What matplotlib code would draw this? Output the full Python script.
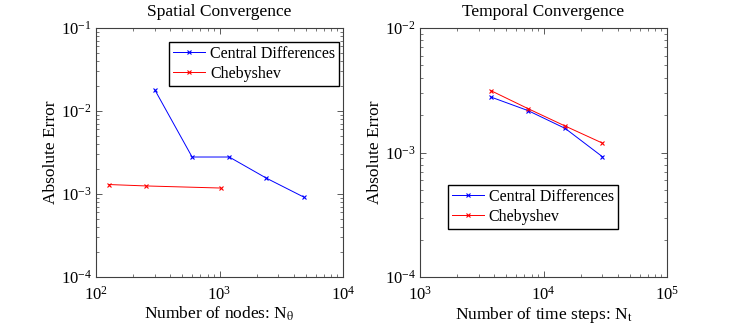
import numpy as np
import matplotlib
matplotlib.use("Agg")
import matplotlib.pyplot as plt

plt.rcParams['font.family'] = ['Liberation Serif', 'DejaVu Serif']
plt.rcParams['mathtext.fontset'] = 'stix'

# spatial convergence
nodes_cd = [300, 600, 1200, 2400, 4800]
err_cd_space = [0.0179, 0.00279, 0.00279, 0.00155, 0.00092]
nodes_cheb = [128, 256, 1024]
err_cheb_space = [0.00130, 0.00125, 0.00118]

# temporal convergence
steps = [3750, 7500, 15000, 30000]
err_cd_time = [0.00279, 0.00217, 0.00156, 0.000925]
err_cheb_time = [0.00314, 0.00225, 0.00163, 0.00119]

fig = plt.figure(figsize=(7.36, 3.27), dpi=100)
ax1 = fig.add_axes([96/736, 1-277/327, 247/736, 249/327])
ax2 = fig.add_axes([420/736, 1-277/327, 247/736, 249/327])

lw = 0.7
leg_kw = dict(fontsize=11.5, fancybox=False, edgecolor='black', framealpha=1,
              handlelength=2.0, borderpad=0.25, labelspacing=0.25,
              handletextpad=0.3, borderaxespad=0)

ax1.loglog(nodes_cd, err_cd_space, 'b-x', lw=lw, ms=3, mew=0.8, label='Central Differences')
ax1.loglog(nodes_cheb, err_cheb_space, 'r-x', lw=lw, ms=3, mew=0.8, label='Chebyshev')
ax1.set_xlim(1e2, 1e4)
ax1.set_ylim(1e-4, 1e-1)
ax1.set_title('Spatial Convergence', fontsize=12.5, pad=9)
ax1.set_xlabel(r'Number of nodes: N$_{\mathrm{\theta}}$', fontsize=12.5, labelpad=1)
ax1.set_ylabel('Absolute Error', fontsize=12.5, labelpad=1)
ax1.legend(loc='upper right', bbox_to_anchor=(0.985, 0.945), **leg_kw)

ax2.loglog(steps, err_cd_time, 'b-x', lw=lw, ms=3, mew=0.8, label='Central Differences')
ax2.loglog(steps, err_cheb_time, 'r-x', lw=lw, ms=3, mew=0.8, label='Chebyshev')
ax2.set_xlim(1e3, 1e5)
ax2.set_ylim(1e-4, 1e-2)
ax2.set_title('Temporal Convergence', fontsize=12.5, pad=9)
ax2.set_xlabel(r'Number of time steps: N$_{\mathrm{t}}$', fontsize=12.5, labelpad=1)
ax2.set_ylabel('Absolute Error', fontsize=12.5, labelpad=1)
ax2.legend(loc='upper left', bbox_to_anchor=(0.113, 0.37), **leg_kw)

for ax in (ax1, ax2):
    ax.tick_params(which='both', direction='in', top=True, right=True,
                   labelsize=12, colors='#404040', labelcolor='black')
    ax.tick_params(axis='x', pad=6)
    ax.tick_params(axis='y', pad=3)
    ax.tick_params(which='major', length=4, width=0.6)
    ax.tick_params(which='minor', length=2, width=0.5)
    for s in ax.spines.values():
        s.set_color('#404040')
        s.set_linewidth(0.8)

fig.savefig('out.png', dpi=100)
